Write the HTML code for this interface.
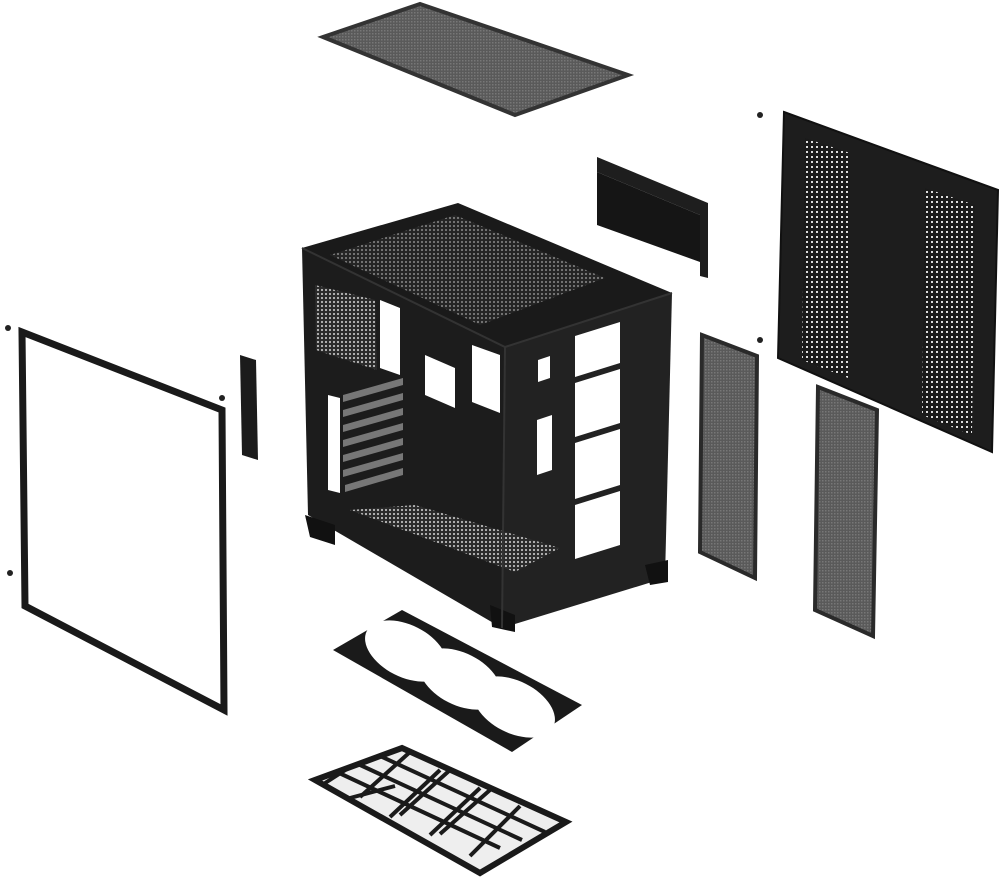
<!DOCTYPE html>
<html><head><meta charset="utf-8"><style>html,body{margin:0;padding:0;background:#fff}svg{display:block}</style></head>
<body>
<svg width="1000" height="877" viewBox="0 0 1000 877" xmlns="http://www.w3.org/2000/svg">
<defs>
<pattern id="dots" width="4" height="4" patternUnits="userSpaceOnUse"><rect width="4" height="4" fill="#2a2a2a"/><circle cx="2" cy="2" r="1.1" fill="#bbb"/></pattern>
<pattern id="vent" width="5" height="5" patternUnits="userSpaceOnUse"><rect width="5" height="5" fill="#1a1a1a"/><rect x="1" y="1" width="2" height="2" fill="#ddd"/></pattern>
<pattern id="mesh" width="3" height="3" patternUnits="userSpaceOnUse"><rect width="3" height="3" fill="#5a5a5a"/><rect width="1.5" height="1.5" fill="#777"/></pattern>
</defs>

<polygon points="323,37 420,4 628,75 515,115" fill="url(#mesh)" stroke="#333" stroke-width="4"/>

<polygon points="597,157 708,203 708,278 700,276 700,215 597,172" fill="#1e1e1e"/>
<polygon points="597,172 700,215 700,262 597,225" fill="#151515"/>

<polygon points="784,112 998,190 992,452 778,358" fill="#1d1d1d" stroke="#111" stroke-width="2"/>
<polygon points="805,138 850,153 848,378 802,360" fill="url(#vent)"/>
<polygon points="925,188 975,205 972,435 922,415" fill="url(#vent)"/>
<circle cx="760" cy="115" r="3" fill="#222"/><circle cx="760" cy="340" r="3" fill="#222"/>

<polygon points="702,335 757,356 755,578 700,552" fill="url(#mesh)" stroke="#2a2a2a" stroke-width="4"/>
<polygon points="818,387 877,410 873,636 815,610" fill="url(#mesh)" stroke="#2a2a2a" stroke-width="4"/>

<polygon points="22,332 222,410 224,710 25,606" fill="#fff" stroke="#1a1a1a" stroke-width="7"/>
<circle cx="8" cy="328" r="3" fill="#222"/><circle cx="222" cy="398" r="3" fill="#222"/>
<circle cx="10" cy="573" r="3" fill="#222"/>
<polygon points="240,355 256,360 258,460 242,455" fill="#1b1b1b"/>

<polygon points="302,248 505,347 502,628 308,515" fill="#1c1c1c"/>
<polygon points="505,347 672,293 665,578 502,628" fill="#222"/>
<polygon points="302,248 458,203 672,293 505,347" fill="#1a1a1a"/>
<polygon points="330,255 455,215 605,278 480,325" fill="url(#dots)" opacity="0.6"/>
<polygon points="315,285 375,300 377,370 316,350" fill="url(#dots)"/>
<polygon points="380,300 400,308 400,375 380,368" fill="#fff"/>
<polygon points="425,355 455,368 455,408 425,395" fill="#fff"/>
<polygon points="472,345 500,355 500,413 472,402" fill="#fff"/>
<polygon points="328,395 340,398 340,493 328,490" fill="#fff"/>
<g fill="#777">
<polygon points="343,395 403,378 403,385 343,402"/>
<polygon points="343,410 403,393 403,400 343,417"/>
<polygon points="343,425 403,408 403,415 343,432"/>
<polygon points="343,440 403,423 403,430 343,447"/>
<polygon points="343,455 403,438 403,445 343,462"/>
<polygon points="343,470 403,453 403,460 343,477"/>
<polygon points="345,485 403,468 403,475 345,492"/>
</g>
<polygon points="350,510 415,505 560,548 515,572" fill="url(#dots)"/>
<polygon points="538,360 550,356 550,378 538,382" fill="#fff"/>
<polygon points="537,420 552,415 552,470 537,475" fill="#fff"/>
<polygon points="575,336 620,322 620,363 575,377" fill="#fff"/>
<polygon points="575,383 620,369 620,423 575,437" fill="#fff"/>
<polygon points="575,443 620,429 620,485 575,499" fill="#fff"/>
<polygon points="575,505 620,491 620,545 575,559" fill="#fff"/>
<polygon points="305,515 335,525 335,545 310,537" fill="#111"/>
<polygon points="490,605 515,615 515,632 492,627" fill="#111"/>
<polygon points="645,565 668,560 668,582 650,585" fill="#111"/>
<polyline points="302,248 505,347 672,293" fill="none" stroke="#333" stroke-width="2"/>
<line x1="505" y1="347" x2="502" y2="628" stroke="#333" stroke-width="2"/>

<!-- fan bracket -->
<polygon points="333,650 402,610 582,705 512,752" fill="#1a1a1a"/>
<ellipse cx="406" cy="651" rx="44" ry="26" transform="rotate(27 406 651)" fill="#fff"/>
<ellipse cx="460" cy="679" rx="44" ry="26" transform="rotate(27 460 679)" fill="#fff"/>
<ellipse cx="514" cy="707" rx="44" ry="26" transform="rotate(27 514 707)" fill="#fff"/>

<!-- bottom grid filter -->
<polygon points="315,780 402,748 566,822 480,873" fill="#eee" stroke="#1a1a1a" stroke-width="6"/>
<g stroke="#1a1a1a" stroke-width="4" fill="none">
<line x1="337" y1="772" x2="500" y2="848"/>
<line x1="358" y1="764" x2="522" y2="840"/>
<line x1="380" y1="756" x2="545" y2="832"/>
<line x1="350" y1="767" x2="322" y2="785"/>
<line x1="395" y1="786" x2="350" y2="798"/>
<line x1="440" y1="770" x2="390" y2="817"/>
<line x1="480" y1="788" x2="430" y2="835"/>
<line x1="520" y1="806" x2="470" y2="856"/>
<line x1="360" y1="797" x2="410" y2="752"/>
<line x1="400" y1="815" x2="450" y2="770"/>
<line x1="440" y1="834" x2="490" y2="790"/>
</g>
</svg>
</body></html>
